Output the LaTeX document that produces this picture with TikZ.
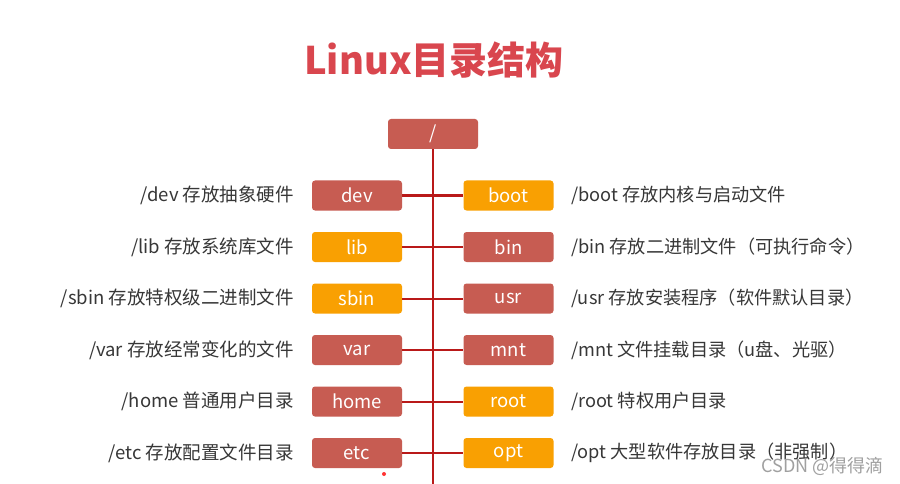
\documentclass[tikz,border=0pt]{standalone}
\usepackage{fontspec}
\setmainfont{Noto Sans CJK SC}
\definecolor{boxred}{RGB}{199,92,82}
\definecolor{boxorange}{RGB}{249,160,2}
\definecolor{linered}{RGB}{185,25,25}
\definecolor{titlered}{RGB}{217,70,78}
\definecolor{txt}{RGB}{55,55,55}
\definecolor{wmgray}{RGB}{160,160,160}
\begin{document}
\begin{tikzpicture}[x=1pt,y=-1pt,
  dirbox/.style={rounded corners=3pt,minimum width=90pt,minimum height=30pt,inner sep=0pt,text=white,font=\fontsize{18.5}{18.5}\selectfont},
  rbox/.style={dirbox,fill=boxred},
  obox/.style={dirbox,fill=boxorange},
  conn/.style={draw=linered,line width=2pt},
  ldesc/.style={anchor=east,text=txt,inner sep=0pt,font=\fontsize{18.5}{18.5}\selectfont},
  rdesc/.style={anchor=west,text=txt,inner sep=0pt,font=\fontsize{18.2}{18.2}\selectfont}]
\useasboundingbox[fill=white] (0,0) rectangle (900,484);
\node[text=titlered,font=\fontsize{38}{38}\bfseries\selectfont] (title) at (434,60) {Linux目录结构};
\node[rbox] (root) at (433,134) {/};
\coordinate (bottom) at (433,484);
% left boxes
\node[rbox] (dev) at (357,195.5) {dev};
\node[obox] (lib) at (357,247) {lib};
\node[obox] (sbin) at (357,298.5) {sbin};
\node[rbox] (var) at (357,350) {var};
\node[rbox] (home) at (357,401.5) {home};
\node[rbox] (etc) at (357,453) {etc};
% right boxes
\node[obox] (boot) at (508.5,195.5) {boot};
\node[rbox] (bin) at (508.5,247) {bin};
\node[rbox] (usr) at (508.5,298.5) {usr};
\node[rbox] (mnt) at (508.5,350) {mnt};
\node[obox] (rootd) at (508.5,401.5) {root};
\node[obox] (opt) at (508.5,453) {opt};
% connectors
\draw[conn] (root.south) -- (bottom);
\foreach \a/\b in {dev/boot,lib/bin,sbin/usr,var/mnt,home/rootd,etc/opt}
  \draw[conn] (\a.east) -- (\b.west);
% descriptions
\node[ldesc] (ddev) at (294,195.5) {/dev 存放抽象硬件};
\node[ldesc] (dlib) at (294,247) {/lib 存放系统库文件};
\node[ldesc] (dsbin) at (294,298.5) {/sbin 存放特权级二进制文件};
\node[ldesc] (dvar) at (294,350) {/var 存放经常变化的文件};
\node[ldesc] (dhome) at (294,401.5) {/home 普通用户目录};
\node[ldesc] (detc) at (294,453) {/etc 存放配置文件目录};
\node[rdesc] (dboot) at (571,195.5) {/boot 存放内核与启动文件};
\node[rdesc] (dbin) at (571,247) {/bin 存放二进制文件（可执行命令）};
\node[rdesc] (dusr) at (571,298.5) {/usr 存放安装程序（软件默认目录）};
\node[rdesc] (dmnt) at (571,350) {/mnt 文件挂载目录（u盘、光驱）};
\node[rdesc] (droot) at (571,401.5) {/root 特权用户目录};
\node[rdesc] (dopt) at (571,453) {/opt 大型软件存放目录（非强制）};
% watermark and pointer dot
\node[anchor=east,text=wmgray,inner sep=0pt,font=\fontsize{18}{18}\selectfont] (wm) at (884,466) {CSDN @得得滴};
\fill[red!80!white] (384,474) circle (2pt);
\end{tikzpicture}
\end{document}
